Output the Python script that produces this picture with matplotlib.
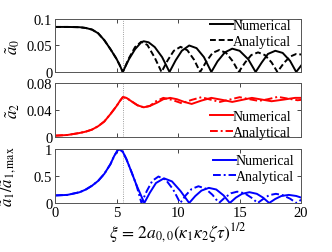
import matplotlib
matplotlib.use("Agg")
import matplotlib.pyplot as plt

plt.rcParams["font.family"] = ["Liberation Serif", "DejaVu Serif"]
plt.rcParams["mathtext.fontset"] = "stix"

# --- panel 1: a0 -------------------------------------------------------
a0_x_pre = [0, 1, 2, 2.5, 3, 3.5, 4, 4.5, 5, 5.25]
a0_y_pre = [0.085, 0.085, 0.0845, 0.083, 0.080, 0.073, 0.060, 0.043, 0.0245, 0.013]

a0_num_x = [5.5, 6.0, 6.5, 7.0, 7.2, 7.6, 8.1, 8.7, 9.3,
            9.8, 10.3, 10.9, 11.5, 12.1, 12.7,
            13.2, 13.8, 14.4, 15.0, 15.7, 16.3,
            16.8, 17.3, 17.9, 18.5, 19.1, 19.6, 20.0]
a0_num_y = [0.0, 0.024, 0.043, 0.056, 0.058, 0.056, 0.047, 0.028, 0.0,
            0.022, 0.040, 0.050, 0.045, 0.028, 0.0,
            0.020, 0.037, 0.044, 0.040, 0.024, 0.0,
            0.018, 0.034, 0.040, 0.036, 0.021, 0.0, 0.012]

a0_ana_x = [5.5, 6.0, 6.5, 7.0, 7.5, 8.1, 8.65,
            9.15, 9.65, 10.2, 10.75, 11.3, 11.79,
            12.3, 12.8, 13.35, 13.9, 14.45, 14.93,
            15.45, 15.95, 16.5, 17.05, 17.6, 18.07,
            18.6, 19.1, 19.6, 20.0]
a0_ana_y = [0.0, 0.026, 0.047, 0.057, 0.051, 0.027, 0.0,
            0.022, 0.040, 0.0475, 0.041, 0.023, 0.0,
            0.020, 0.036, 0.0415, 0.036, 0.020, 0.0,
            0.018, 0.032, 0.037, 0.032, 0.018, 0.0,
            0.017, 0.029, 0.034, 0.033]

# --- panel 2: a2 -------------------------------------------------------
a2_x_pre = [0, 1, 2, 2.5, 3, 3.5, 4, 4.5, 5, 5.25, 5.5, 5.8, 6.2, 6.7, 7.2, 7.7]
a2_y_pre = [0.002, 0.003, 0.006, 0.008, 0.011, 0.016, 0.023, 0.034, 0.046,
            0.053, 0.059, 0.058, 0.053, 0.047, 0.044, 0.046]

a2_num_x = [7.7, 8.3, 8.8, 9.35, 9.9, 10.5, 11.1, 11.9, 12.7, 13.6, 14.4,
            15.2, 16.0, 16.8, 17.6, 18.6, 19.5, 20.0]
a2_num_y = [0.046, 0.051, 0.056, 0.058, 0.056, 0.052, 0.049, 0.054, 0.058,
            0.055, 0.052, 0.055, 0.058, 0.0555, 0.053, 0.0555, 0.058, 0.058]

a2_ana_x = [7.7, 8.2, 8.8, 9.5, 10.3, 11.1, 11.9, 12.6, 13.4, 14.2, 15.0,
            15.8, 16.55, 17.3, 18.1, 18.9, 19.7, 20.0]
a2_ana_y = [0.046, 0.053, 0.058, 0.055, 0.050, 0.055, 0.059, 0.0555, 0.052,
            0.0555, 0.059, 0.056, 0.0535, 0.056, 0.0595, 0.057, 0.0545, 0.055]

# --- panel 3: a1 / a1,max ---------------------------------------------
a1_x_pre = [0, 1, 2, 2.5, 3, 3.5, 4, 4.5, 4.8, 5.15, 5.5, 5.8, 6.2, 6.6]
a1_y_pre = [0.14, 0.15, 0.20, 0.25, 0.32, 0.41, 0.54, 0.72, 0.87, 1.0,
            0.95, 0.81, 0.58, 0.34]

a1_num_x = [6.6, 7.0, 7.25, 7.7, 8.2, 8.85, 9.5, 10.2, 10.9,
            11.4, 11.9, 12.5, 13.1, 13.7, 14.2,
            14.7, 15.2, 15.8, 16.4, 16.9, 17.4,
            17.9, 18.4, 19.0, 19.6, 20.0]
a1_num_y = [0.34, 0.13, 0.0, 0.19, 0.37, 0.457, 0.40, 0.22, 0.0,
            0.13, 0.23, 0.28, 0.25, 0.14, 0.0,
            0.10, 0.17, 0.20, 0.17, 0.10, 0.0,
            0.075, 0.13, 0.15, 0.13, 0.10]

a1_ana_x = [6.6, 7.02, 7.45, 7.9, 8.4, 9.0, 9.6, 10.17,
            10.65, 11.1, 11.65, 12.2, 12.8, 13.32,
            13.8, 14.3, 14.8, 15.4, 15.95, 16.47,
            16.95, 17.4, 17.95, 18.5, 19.1, 19.62, 20.0]
a1_ana_y = [0.34, 0.0, 0.22, 0.41, 0.49, 0.43, 0.25, 0.0,
            0.15, 0.26, 0.31, 0.27, 0.15, 0.0,
            0.10, 0.18, 0.21, 0.18, 0.10, 0.0,
            0.08, 0.145, 0.17, 0.145, 0.08, 0.0, 0.06]

xi_mark = 5.5
x_ticks = [0, 5, 10, 15, 20]


def style_axes(ax, yticks, ylim, show_xlabels=False):
    ax.set_xlim(0, 20)
    ax.set_ylim(*ylim)
    ax.set_xticks(x_ticks)
    ax.set_yticks(yticks)
    ax.tick_params(direction="in", length=3, width=0.6, top=True, right=True,
                   labelsize=10.5, pad=2, colors="#262626", labelcolor="black")
    if not show_xlabels:
        ax.tick_params(labelbottom=False)
    for sp in ax.spines.values():
        sp.set_color("#555555")
        sp.set_linewidth(0.7)
    ax.axvline(xi_mark, color="gray", lw=0.6, ls=":", zorder=1)


fig = plt.figure(figsize=(3.32, 2.53), dpi=100)
left, width = 0.166, 0.741
ax1 = fig.add_axes([left, 0.7115, width, 0.2095])
ax2 = fig.add_axes([left, 0.4545, width, 0.2134])
ax3 = fig.add_axes([left, 0.1937, width, 0.2134])

leg_kw = dict(frameon=False, fontsize=10, handlelength=1.6, handletextpad=0.0,
              labelspacing=0.2, borderaxespad=0.0, borderpad=0.0)

# top
ax1.plot(a0_x_pre + a0_num_x, a0_y_pre + a0_num_y, color="black", lw=1.4, label="Numerical")
ax1.plot(a0_x_pre + a0_ana_x, a0_y_pre + a0_ana_y, color="black", lw=1.4, ls=(0, (3, 1.5)),
         label="Analytical")
style_axes(ax1, [0, 0.05, 0.1], (0, 0.1))
ax1.set_yticklabels(["0", "0.05", "0.1"])
ax1.legend(loc="upper right", bbox_to_anchor=(0.96, 1.0), **leg_kw)
ax1.set_ylabel(r"$\tilde{a}_0$", fontsize=12)
ax1.yaxis.set_label_coords(-0.135, 0.5)

# middle
ax2.plot(a2_x_pre + a2_num_x, a2_y_pre + a2_num_y, color="red", lw=1.4, label="Numerical")
ax2.plot(a2_x_pre + a2_ana_x, a2_y_pre + a2_ana_y, color="red", lw=1.4, ls=(0, (4, 1.5, 1, 1.5)),
         label="Analytical")
style_axes(ax2, [0, 0.04, 0.08], (0, 0.08))
ax2.set_yticklabels(["0", "0.04", "0.08"])
ax2.legend(loc="lower right", bbox_to_anchor=(0.96, -0.03), **leg_kw)
ax2.set_ylabel(r"$\tilde{a}_2$", fontsize=12)
ax2.yaxis.set_label_coords(-0.135, 0.5)

# bottom
ax3.plot(a1_x_pre + a1_num_x, a1_y_pre + a1_num_y, color="blue", lw=1.4, label="Numerical")
ax3.plot(a1_x_pre + a1_ana_x, a1_y_pre + a1_ana_y, color="blue", lw=1.4, ls=(0, (4, 1.5, 1, 1.5)),
         label="Analytical")
style_axes(ax3, [0, 0.5, 1], (0, 1), show_xlabels=True)
ax3.set_yticklabels(["0", "0.5", "1"])
ax3.legend(loc="upper right", bbox_to_anchor=(0.972, 0.9), **leg_kw)
ax3.set_ylabel(r"$\tilde{a}_1/\tilde{a}_{1,\max}$", fontsize=12)
ax3.yaxis.set_label_coords(-0.145, 0.5)
ax3.set_xlabel(r"$\xi\,=\,2a_{0,0}(\kappa_1\kappa_2\zeta\tau)^{1/2}$", fontsize=12.5, labelpad=1)

fig.savefig("out.png", dpi=100)
